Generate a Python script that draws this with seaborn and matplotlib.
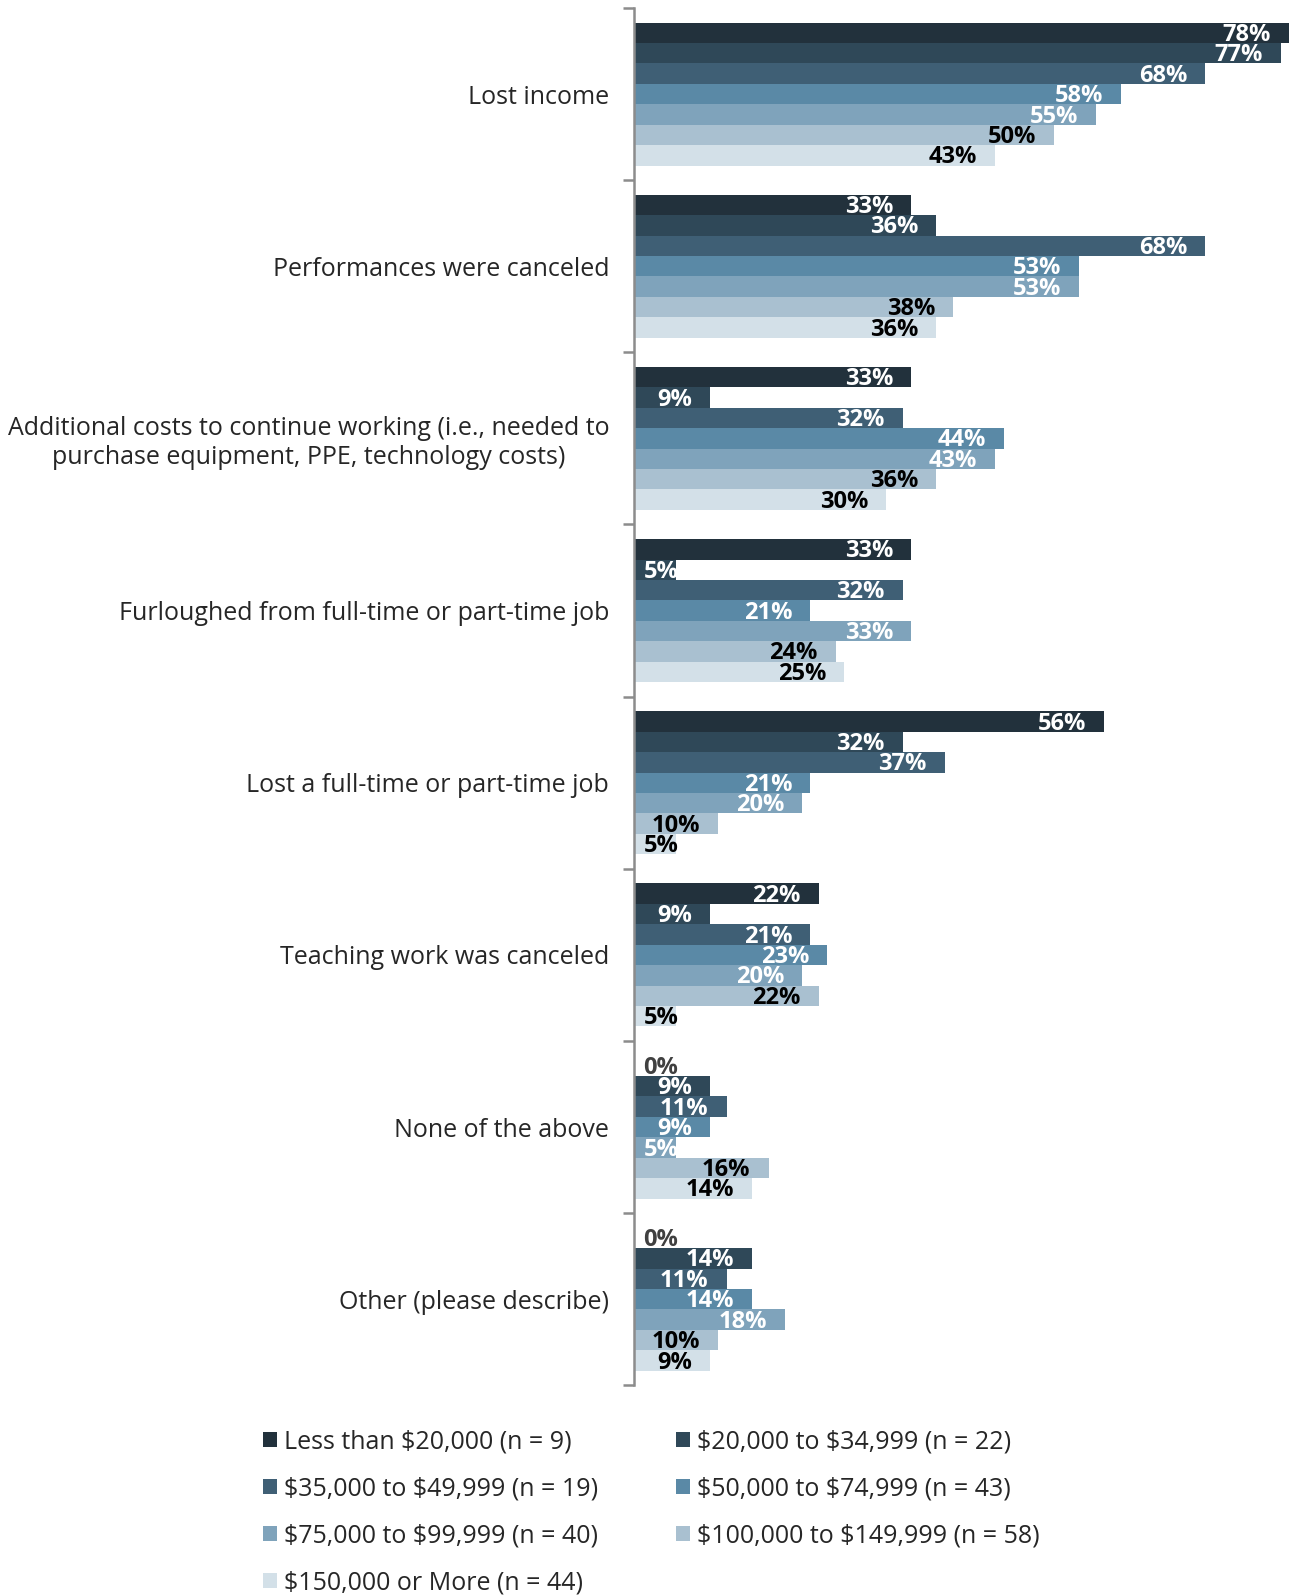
import numpy as np
import pandas as pd
import matplotlib
matplotlib.use("Agg")
import matplotlib.pyplot as plt
from matplotlib.patches import Patch
from matplotlib.ticker import FixedLocator
import seaborn as sns

categories = [
    "Lost income",
    "Performances were canceled",
    "Additional costs to continue working (i.e., needed to\npurchase equipment, PPE, technology costs)",
    "Furloughed from full-time or part-time job",
    "Lost a full-time or part-time job",
    "Teaching work was canceled",
    "None of the above",
    "Other (please describe)",
]

groups = [
    "Less than \\$20,000 (n = 9)",
    "\\$20,000 to \\$34,999 (n = 22)",
    "\\$35,000 to \\$49,999 (n = 19)",
    "\\$50,000 to \\$74,999 (n = 43)",
    "\\$75,000 to \\$99,999 (n = 40)",
    "\\$100,000 to \\$149,999 (n = 58)",
    "\\$150,000 or More (n = 44)",
]

less_20k = [78, 33, 33, 33, 56, 22, 0, 0]
k20_35 = [77, 36, 9, 5, 32, 9, 9, 14]
k35_50 = [68, 68, 32, 32, 37, 21, 11, 11]
k50_75 = [58, 53, 44, 21, 21, 23, 9, 14]
k75_100 = [55, 53, 43, 33, 20, 20, 5, 18]
k100_150 = [50, 38, 36, 24, 10, 22, 16, 10]
k150_plus = [43, 36, 30, 25, 5, 5, 14, 9]

series = [less_20k, k20_35, k35_50, k50_75, k75_100, k100_150, k150_plus]

colors = ["#22313c", "#2f4858", "#3f5f75", "#5a89a6", "#7fa3bb", "#a9c0d0", "#d3e0e8"]
label_colors = ["white", "white", "white", "white", "white", "black", "black"]

rows = []
for g, vals in zip(groups, series):
    for c, v in zip(categories, vals):
        rows.append({"category": c, "group": g, "value": v})
df = pd.DataFrame(rows)

sns.set_style("white")
plt.rcParams["font.family"] = ["Open Sans", "DejaVu Sans"]

fig = plt.figure(figsize=(12.89, 15.96), dpi=100)
ax = fig.add_axes([0.492, 0.132, 0.508, 0.863])

sns.barplot(
    data=df, y="category", x="value", hue="group",
    order=categories, hue_order=groups, palette=colors,
    orient="h", width=0.83, saturation=1, legend=False, ax=ax,
    edgecolor="none", linewidth=0,
)

ax.set_xlim(0, 78)
ax.set_ylim(len(categories) - 0.5, -0.5)
ax.set_xlabel("")
ax.set_ylabel("")
ax.set_xticks([])

for s in ["top", "right", "bottom"]:
    ax.spines[s].set_visible(False)
ax.spines["left"].set_color("#8c8c8c")
ax.spines["left"].set_linewidth(1.8)

ax.yaxis.set_minor_locator(FixedLocator(np.arange(-0.5, len(categories), 1.0)))
ax.tick_params(axis="y", which="major", length=0, pad=18, labelsize=18)
ax.tick_params(axis="y", which="minor", length=8, width=1.8, color="#8c8c8c", left=True)
for lbl in ax.get_yticklabels():
    lbl.set_multialignment("center")

# value labels at the end of each bar
px_per_unit = (ax.get_position().width * fig.get_figwidth() * fig.dpi) / 78
inset = 18 / px_per_unit
min_right = 44 / px_per_unit
for gi, container in enumerate(ax.containers):
    vals = series[gi]
    for bar, v in zip(container.patches, vals):
        yc = bar.get_y() + bar.get_height() / 2
        xr = max(v - inset, min_right)
        col = label_colors[gi]
        if v == 0:
            col = "#404040"
        ax.text(xr, yc + 0.012, f"{v}%", ha="right", va="center",
                fontsize=17, fontweight="bold", color=col)

# legend laid out row by row: two entries per row
order = [0, 2, 4, 6, 1, 3, 5]
handles = [Patch(facecolor=colors[i], edgecolor="none") for i in order]
labels = [groups[i] for i in order]
fig.legend(
    handles, labels, loc="upper left", bbox_to_anchor=(0.1945, 0.112),
    ncol=2, frameon=False, fontsize=18, handlelength=0.55, handleheight=0.55,
    handletextpad=0.3, columnspacing=3.1, labelspacing=0.88, borderpad=0,
)

fig.savefig("out.png", dpi=100)
